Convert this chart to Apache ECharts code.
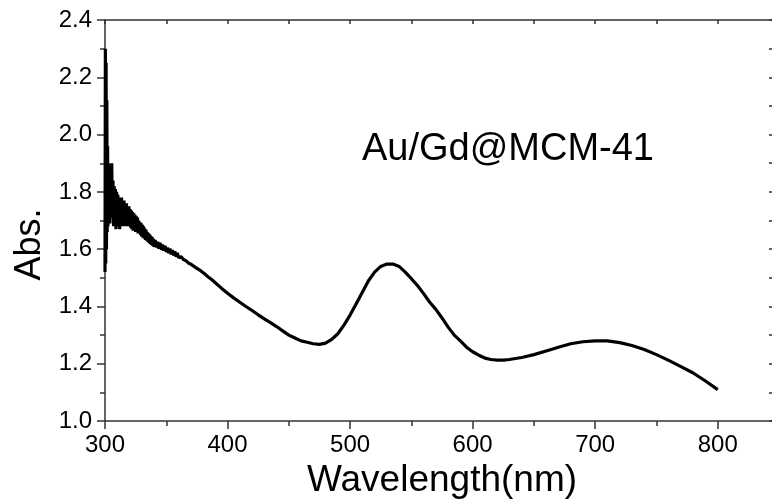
<!DOCTYPE html>
<html>
<head>
<meta charset="utf-8">
<script src="https://cdn.jsdelivr.net/npm/echarts@6/dist/echarts.min.js"></script>
<style>
  html, body { margin: 0; padding: 0; background: #fff; overflow: hidden; width: 772px; height: 504px; }
  #chart { width: 780px; height: 504px; }
</style>
</head>
<body>
<div id="chart"></div>
<script>
// ---- data ----
const xTickLabels = ['300', '400', '500', '600', '700', '800'];
const yTickLabels = ['1.0', '1.2', '1.4', '1.6', '1.8', '2.0', '2.2', '2.4'];
const sampleLabel = 'Au/Gd@MCM-41';

const wavelength = [
  300.0, 300.3, 300.6, 300.9, 301.2, 301.5, 301.8, 302.1, 302.4, 302.8,
  303.2, 303.6, 304.0, 304.5, 305.0, 305.5, 306.0, 306.5, 307.0, 307.5,
  308.0, 308.5, 309.0, 309.5, 310.0, 310.5, 311.0, 311.5, 312.0, 312.5,
  313.0, 313.5, 314.0, 314.5, 315.0, 315.5, 316.0, 316.5, 317.0, 317.5,
  318.0, 318.5, 319.0, 319.5, 320.0, 320.5, 321.0, 321.5, 322.0, 322.5,
  323.0, 323.5, 324.0, 324.5, 325.0, 325.5, 326.0, 326.5, 327.0, 327.5,
  328.0, 328.5, 329.0, 329.5, 330.0, 330.5, 331.0, 331.5, 332.0, 332.5,
  333.0, 333.5, 334.0, 334.5, 335.0, 335.5, 336.0, 336.5, 337.0, 337.5,
  338.0, 338.5, 339.0, 339.5, 340.0, 341, 342, 343, 344, 345,
  346, 347, 348, 349, 350, 351, 352, 353, 354, 355,
  356, 357, 358, 359, 360, 362, 364, 366, 368, 370,
  372, 375, 378, 381, 384, 387, 390, 395, 400, 405,
  410, 415, 420, 425, 430, 435, 440, 445, 450, 455,
  460, 465, 470, 475, 480, 485, 490, 495, 500, 505,
  510, 515, 520, 525, 530, 535, 540, 545, 550, 555,
  560, 565, 570, 575, 580, 585, 590, 595, 600, 605,
  610, 615, 620, 625, 630, 640, 650, 660, 670, 680,
  690, 700, 710, 720, 730, 740, 750, 760, 770, 780,
  790, 800
];
const absorbance = [
  1.52, 2.30, 1.55, 2.25, 1.60, 2.12, 1.66, 1.96, 1.68, 1.90,
  1.71, 1.88, 1.69, 1.86, 1.73, 1.90, 1.71, 1.84, 1.68, 1.82,
  1.69, 1.81, 1.67, 1.80, 1.68, 1.79, 1.69, 1.78, 1.67, 1.77,
  1.69, 1.78, 1.68, 1.76, 1.69, 1.77, 1.68, 1.75, 1.685, 1.76,
  1.68, 1.745, 1.69, 1.75, 1.68, 1.74, 1.675, 1.735, 1.67, 1.73,
  1.665, 1.725, 1.67, 1.72, 1.66, 1.715, 1.665, 1.71, 1.655, 1.70,
  1.655, 1.695, 1.65, 1.69, 1.645, 1.685, 1.64, 1.68, 1.638, 1.672,
  1.632, 1.668, 1.63, 1.66, 1.626, 1.655, 1.622, 1.652, 1.618, 1.646,
  1.615, 1.642, 1.612, 1.636, 1.608, 1.632, 1.606, 1.626, 1.602, 1.622,
  1.598, 1.616, 1.595, 1.612, 1.59, 1.606, 1.586, 1.602, 1.582, 1.597,
  1.578, 1.592, 1.574, 1.587, 1.571, 1.574, 1.564, 1.560, 1.552, 1.548,
  1.542, 1.533, 1.525, 1.515, 1.504, 1.494, 1.483, 1.464, 1.446, 1.43,
  1.415, 1.40, 1.386, 1.371, 1.357, 1.344, 1.33, 1.315, 1.30, 1.29,
  1.28, 1.275, 1.27, 1.268, 1.272, 1.285, 1.305, 1.335, 1.37, 1.41,
  1.45, 1.49, 1.52, 1.54, 1.548, 1.548, 1.54, 1.52, 1.497, 1.473,
  1.445, 1.415, 1.39, 1.36, 1.328, 1.30, 1.28, 1.258, 1.242, 1.23,
  1.22, 1.215, 1.213, 1.213, 1.215, 1.222, 1.232, 1.245, 1.258, 1.27,
  1.277, 1.28, 1.28, 1.274, 1.264, 1.25, 1.232, 1.212, 1.19, 1.168,
  1.14, 1.11
];

const xMin = Number(xTickLabels[0]);
const xStep = Number(xTickLabels[1]) - Number(xTickLabels[0]);
const xMax = 850;
const yMin = Number(yTickLabels[0]);
const yMax = Number(yTickLabels[yTickLabels.length - 1]);
const yStep = Number(yTickLabels[1]) - Number(yTickLabels[0]);

const seriesData = wavelength.map((w, i) => [w, absorbance[i]]);

const FONT = 'Liberation Sans, Arial, Helvetica, sans-serif';
const AXIS_COLOR = '#333';

const chart = echarts.init(document.getElementById('chart'), null, { renderer: 'canvas' });
chart.setOption({
  animation: false,
  backgroundColor: '#ffffff',
  grid: { left: 105, top: 20, right: 1, bottom: 78, containLabel: false },
  xAxis: [
    {
      type: 'value', position: 'bottom', min: xMin, max: xMax, interval: xStep,
      name: 'Wavelength(nm)', nameLocation: 'middle', nameGap: 31,
      nameTextStyle: { fontFamily: FONT, fontSize: 37, color: '#000' },
      axisLine: { show: true, lineStyle: { color: AXIS_COLOR, width: 1.5 } },
      axisTick: { show: true, inside: false, length: 8, lineStyle: { color: AXIS_COLOR, width: 1.5 } },
      axisLabel: { show: true, margin: 12, fontFamily: FONT, fontSize: 24, color: '#000', showMaxLabel: false,
                   formatter: v => String(v) },
      splitLine: { show: false }
    },
    {
      type: 'value', position: 'bottom', min: xMin, max: xMax, interval: xStep / 2,
      axisLine: { show: false },
      axisTick: { show: true, inside: false, length: 5, lineStyle: { color: AXIS_COLOR, width: 1.5 } },
      axisLabel: { show: false },
      splitLine: { show: false }
    },
    {
      type: 'value', position: 'top', min: xMin, max: xMax, interval: xStep / 2,
      axisLine: { show: true, lineStyle: { color: AXIS_COLOR, width: 1.5 } },
      axisTick: { show: true, inside: true, length: 4, lineStyle: { color: AXIS_COLOR, width: 1.5 } },
      axisLabel: { show: false },
      splitLine: { show: false }
    }
  ],
  yAxis: [
    {
      type: 'value', position: 'left', min: yMin, max: yMax, interval: yStep,
      name: 'Abs.', nameLocation: 'middle', nameGap: 56, nameRotate: 90,
      nameTextStyle: { fontFamily: FONT, fontSize: 36, color: '#000', padding: [0, 48, 0, 0] },
      axisLine: { show: true, lineStyle: { color: AXIS_COLOR, width: 1.5 } },
      axisTick: { show: true, inside: false, length: 8, lineStyle: { color: AXIS_COLOR, width: 1.5 } },
      minorTick: { show: true, splitNumber: 2, length: 5, lineStyle: { color: AXIS_COLOR, width: 1.5 } },
      axisLabel: { show: true, margin: 13, fontFamily: FONT, fontSize: 24, color: '#000',
                   formatter: v => v.toFixed(1) },
      splitLine: { show: false }
    },
    {
      type: 'value', position: 'right', min: yMin, max: yMax, interval: yStep / 2,
      axisLine: { show: true, lineStyle: { color: AXIS_COLOR, width: 1.5 } },
      axisTick: { show: true, inside: true, length: 10, lineStyle: { color: AXIS_COLOR, width: 1.5 } },
      axisLabel: { show: false },
      splitLine: { show: false }
    }
  ],
  graphic: [
    {
      type: 'text', left: 362, top: 131, silent: true,
      style: { text: sampleLabel, font: '38px ' + FONT, fill: '#000' }
    }
  ],
  series: [
    {
      type: 'line', xAxisIndex: 0, yAxisIndex: 0, data: seriesData,
      showSymbol: false, smooth: false,
      lineStyle: { color: '#000', width: 3.2 },
      clip: true
    }
  ]
});
</script>
</body>
</html>
